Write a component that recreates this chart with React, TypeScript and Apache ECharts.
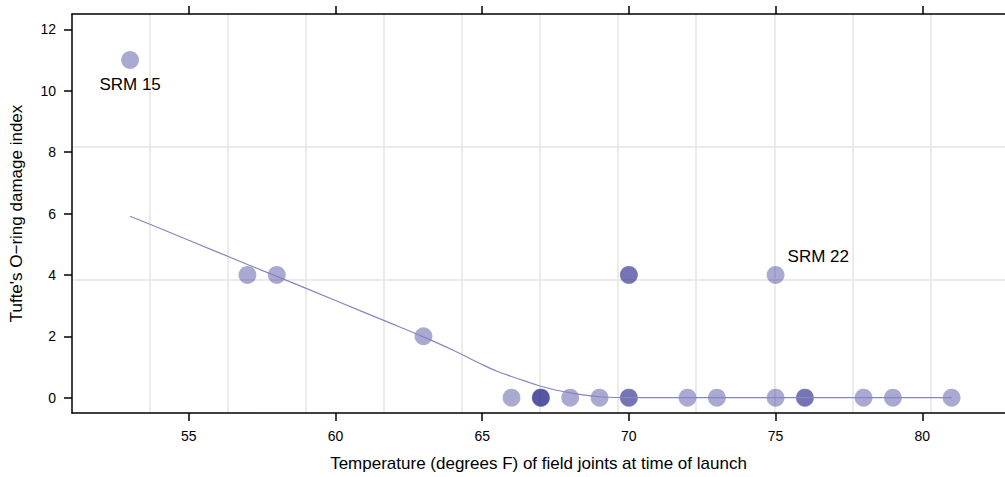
import React, { useEffect, useRef } from "react";
import * as echarts from "echarts";

const temps = [53, 57, 58, 63, 66, 67, 67, 67, 68, 69, 70, 70, 70, 70, 72, 73, 75, 75, 76, 76, 78, 79, 81];
const damage = [11, 4, 4, 2, 0, 0, 0, 0, 0, 0, 4, 4, 0, 0, 0, 0, 4, 0, 0, 0, 0, 0, 0];

const loessTemps = [53, 55, 57, 59, 61, 62, 63, 64, 65, 65.5, 66, 66.5, 67, 67.5, 68, 68.5, 69, 70, 72, 75, 78, 81];
const loessDamage = [5.91, 5.13, 4.34, 3.56, 2.77, 2.38, 1.98, 1.55, 1.08, 0.86, 0.69, 0.53, 0.37, 0.25, 0.16, 0.08, 0.03, 0, 0, 0, 0, 0];

const xTicks = [55, 60, 65, 70, 75, 80];
const yTicks = [0, 2, 4, 6, 8, 10, 12];

const annotationTemps = [53, 75];
const annotationDamage = [11, 4];
const annotationTexts = ["SRM 15", "SRM 22"];

const FONT = "'Liberation Sans', Arial, Helvetica, sans-serif";

export default function App() {
  const ref = useRef<HTMLDivElement>(null);
  useEffect(() => {
    document.body.style.margin = "0";
    const chart = echarts.init(ref.current!, undefined, { renderer: "svg" });

    const labelBase = {
      show: true,
      fontSize: 17,
      color: "#000",
      opacity: 1,
      fontFamily: FONT,
      textBorderWidth: 0,
      textBorderColor: "transparent",
    };

    const annData = annotationTemps.map((t, i) => ({
      value: [t, annotationDamage[i]],
      label:
        i === 0
          ? { ...labelBase, formatter: annotationTexts[i], position: "bottom", distance: 7, align: "center" }
          : { ...labelBase, formatter: annotationTexts[i], position: "right", distance: 3, offset: [0, -18] },
    }));

    const axisLineStyle = { color: "#000", width: 1.5 };

    chart.setOption({
      animation: false,
      textStyle: { fontFamily: FONT },
      grid: { left: 70, top: 14, right: 0, bottom: 63, containLabel: false },
      xAxis: [
        {
          type: "value",
          position: "bottom",
          min: 51.02,
          max: 82.82,
          axisLine: { show: true, onZero: false, lineStyle: axisLineStyle },
          axisTick: { show: true, length: 8, customValues: xTicks, lineStyle: axisLineStyle },
          axisLabel: { show: true, customValues: xTicks, fontSize: 14, color: "#000", margin: 16, fontFamily: FONT },
          splitLine: { show: false },
          name: "Temperature (degrees F) of field joints at time of launch",
          nameLocation: "middle",
          nameGap: 42,
          nameTextStyle: { fontSize: 17, color: "#000", fontFamily: FONT },
        },
        {
          type: "value",
          position: "top",
          min: 51.02,
          max: 82.82,
          axisLine: { show: true, onZero: false, lineStyle: axisLineStyle },
          axisTick: { show: true, length: 8, customValues: xTicks, lineStyle: axisLineStyle },
          axisLabel: { show: false },
          splitLine: { show: false },
        },
        {
          type: "value",
          position: "top",
          min: 0,
          max: 11.957,
          interval: 1,
          axisLine: { show: false, onZero: false },
          axisTick: { show: false },
          axisLabel: { show: false },
          splitLine: { show: true, showMinLine: false, showMaxLine: false, lineStyle: { color: "#e5e5e5", width: 1.5 } },
        },
      ],
      yAxis: [
        {
          type: "value",
          position: "left",
          min: -0.5,
          max: 12.5,
          axisLine: { show: true, onZero: false, lineStyle: axisLineStyle },
          axisTick: { show: true, length: 8, customValues: yTicks, lineStyle: axisLineStyle },
          axisLabel: { show: true, customValues: yTicks, fontSize: 14, color: "#000", margin: 16, fontFamily: FONT },
          splitLine: { show: false },
          name: "Tufte's O\u2212ring damage index",
          nameLocation: "middle",
          nameGap: 47,
          nameRotate: 90,
          nameTextStyle: { fontSize: 17, color: "#000", fontFamily: FONT },
        },
        {
          type: "value",
          position: "right",
          min: 0,
          max: 3,
          interval: 1,
          axisLine: { show: false, onZero: false },
          axisTick: { show: false },
          axisLabel: { show: false },
          splitLine: { show: true, showMinLine: false, showMaxLine: false, lineStyle: { color: "#e5e5e5", width: 1.5 } },
        },
      ],
      series: [
        {
          type: "scatter",
          xAxisIndex: 0,
          yAxisIndex: 0,
          symbol: "circle",
          symbolSize: 18,
          data: temps.map((t, i) => [t, damage[i]]),
          itemStyle: { color: "rgba(40,40,140,0.5)", borderColor: "rgba(255,255,255,0.2)", borderWidth: 0.8 },
          emphasis: { disabled: true },
          z: 2,
        },
        {
          type: "scatter",
          xAxisIndex: 0,
          yAxisIndex: 0,
          symbol: "circle",
          symbolSize: 18,
          data: annData,
          itemStyle: { color: "rgba(0,0,0,0)", borderWidth: 0 },
          emphasis: { disabled: true },
          z: 4,
        },
        {
          type: "line",
          xAxisIndex: 0,
          yAxisIndex: 0,
          data: loessTemps.map((t, i) => [t, loessDamage[i]]),
          showSymbol: false,
          symbol: "none",
          smooth: 0.3,
          lineStyle: { color: "#8585c4", width: 1.2 },
          emphasis: { disabled: true },
          z: 3,
        },
      ],
    });
    return () => chart.dispose();
  }, []);
  return <div ref={ref} style={{ width: 1005, height: 477 }} />;
}
